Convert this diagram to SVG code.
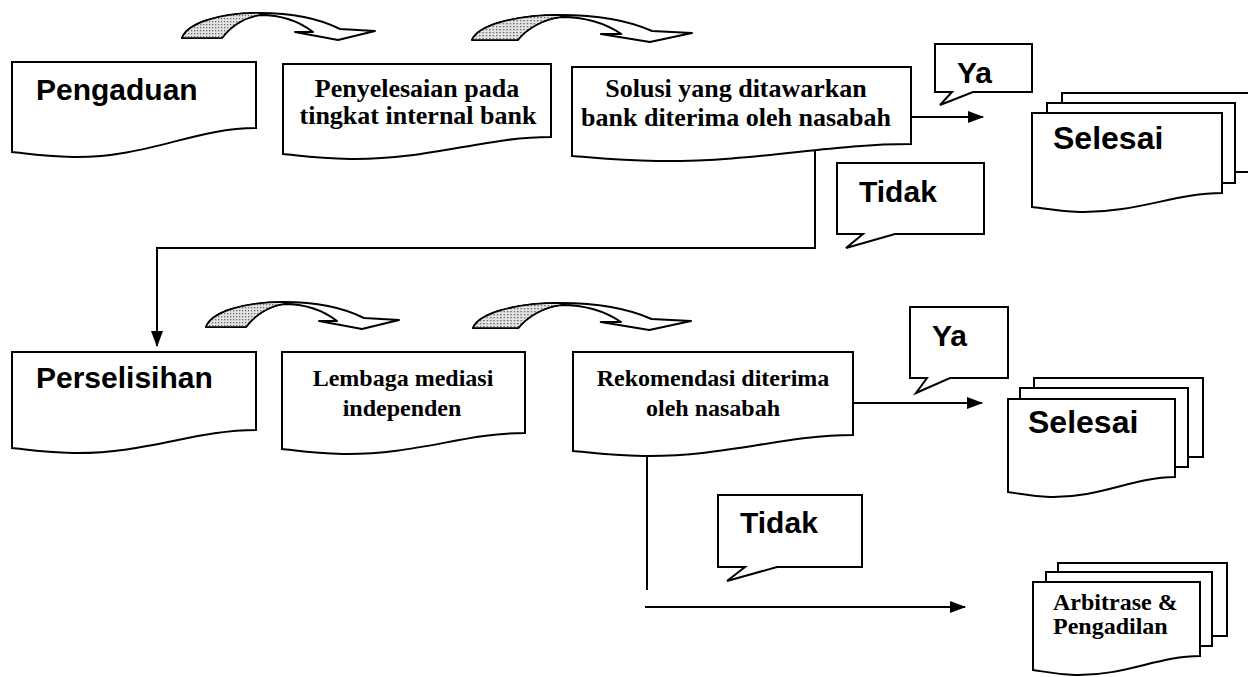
<svg xmlns="http://www.w3.org/2000/svg" xmlns:xlink="http://www.w3.org/1999/xlink" width="1248" height="677" viewBox="0 0 1248 677">
<defs>
<style>
.shape{fill:#fff;stroke:#000;stroke-width:2;stroke-linejoin:miter}
.conn{fill:none;stroke:#000;stroke-width:2}
.sans{font-family:"Liberation Sans",Arial,sans-serif;font-weight:bold;font-size:30px;fill:#000}
.big{font-size:32px}
.serif{font-family:"Liberation Serif","Times New Roman",serif;font-weight:bold;font-size:24px;fill:#000}
.lg{font-size:26px}
.mid{text-anchor:middle}
.band{fill:#fff;stroke:#000;stroke-width:2;stroke-linejoin:round}
.shade{fill:url(#dots);stroke:#000;stroke-width:1.5;stroke-linejoin:round}
</style>
<pattern id="dots" width="3" height="3" patternUnits="userSpaceOnUse">
<rect width="3" height="3" fill="#e4e4e4"/>
<rect x="0" y="0" width="1.3" height="1.3" fill="#6a6a6a"/>
</pattern>
<marker id="ah" viewBox="0 0 16 12" refX="15" refY="6" markerWidth="16" markerHeight="12" markerUnits="userSpaceOnUse" orient="auto">
<path d="M0,0 L16,6 L0,12 Z" fill="#000"/>
</marker>
<g id="curved">
<path class="band" vector-effect="non-scaling-stroke" d="M0,26 C5,12 35,1 78,1 C112,1 140,8 158,17 L193,19 L156,28 L113,20 L131,20 C118,10 100,3 78,3 C62,5 48,15 40,26 Z"/>
<path class="shade" vector-effect="non-scaling-stroke" d="M0,26 C5,12 35,1 78,1 L78,3 C62,5 48,15 40,26 Z"/>
</g>
</defs>
<rect width="1248" height="677" fill="#fff"/>

<g id="curved-arrows">
<use xlink:href="#curved" href="#curved" transform="translate(182,12)"/>
<use xlink:href="#curved" href="#curved" transform="translate(472,14) scale(1.14,1)"/>
<use xlink:href="#curved" href="#curved" transform="translate(206,301)"/>
<use xlink:href="#curved" href="#curved" transform="translate(473,302) scale(1.13,1)"/>
</g>

<g id="connectors">
<path class="conn" d="M911,117 H983" marker-end="url(#ah)"/>
<path class="conn" d="M815,144 V248 H157 V346" marker-end="url(#ah)"/>
<path class="conn" d="M853,403 H982" marker-end="url(#ah)"/>
<path class="conn" d="M647,456 V590"/>
<path class="conn" d="M645,607 H965" marker-end="url(#ah)"/>
</g>

<g id="pengaduan">
<path class="shape" d="M12,62 H256 V128 C195,128 146,158 73,157 C41,156 24,153 12,152 Z"/>
<text class="sans" x="36" y="100">Pengaduan</text>
</g>

<g id="penyelesaian">
<path class="shape" d="M283,64 H551 V137 C484,137 430,160 350,159 C315,158 296,155 283,154 Z"/>
<text class="serif lg mid" x="417" y="97">Penyelesaian pada</text>
<text class="serif lg mid" x="418" y="124">tingkat internal bank</text>
</g>

<g id="solusi">
<path class="shape" d="M572,67 H911 V144 C826,144 758,162 657,161 C613,160 589,157 572,156 Z"/>
<text class="serif lg mid" x="736" y="97">Solusi yang ditawarkan</text>
<text class="serif lg mid" x="736" y="126">bank diterima oleh nasabah</text>
</g>

<g id="ya-1">
<path class="shape" d="M935,44 H1032 V92 H973 L940,105 L952,92 H935 Z"/>
<text class="sans" x="957" y="83">Ya</text>
</g>

<g id="selesai-1">
<path class="shape" d="M1062,93 H1262 V172 H1062 Z"/>
<path class="shape" d="M1047,103 H1235 V183 H1047 Z"/>
<path class="shape" d="M1032,113 H1222 V193 C1175,193 1137,213 1080,212 C1055,211 1042,208 1032,207 Z"/>
<text class="sans big" x="1053" y="149">Selesai</text>
</g>

<g id="tidak-1">
<path class="shape" d="M837,163 H984 V234 H895 L846,248 L863,234 H837 Z"/>
<text class="sans" x="859" y="202">Tidak</text>
</g>

<g id="perselisihan">
<path class="shape" d="M12,352 H256 V430 C195,430 146,454 73,453 C41,452 24,449 12,448 Z"/>
<text class="sans" x="36" y="388">Perselisihan</text>
</g>

<g id="lembaga">
<path class="shape" d="M282,352 H525 V433 C464,433 416,455 343,454 C311,453 294,450 282,449 Z"/>
<text class="serif mid" x="403" y="386">Lembaga mediasi</text>
<text class="serif mid" x="402" y="416">independen</text>
</g>

<g id="rekomendasi">
<path class="shape" d="M573,352 H853 V435 C783,435 727,457 643,456 C607,455 587,452 573,451 Z"/>
<text class="serif mid" x="713" y="386">Rekomendasi diterima</text>
<text class="serif mid" x="713" y="416">oleh nasabah</text>
</g>

<g id="ya-2">
<path class="shape" d="M910,307 H1008 V378 H950 L916,393 L927,378 H910 Z"/>
<text class="sans" x="932" y="346">Ya</text>
</g>

<g id="selesai-2">
<path class="shape" d="M1034,378 H1203 V457 H1034 Z"/>
<path class="shape" d="M1020,388 H1188 V467 H1020 Z"/>
<path class="shape" d="M1008,399 H1175 V477 C1133,477 1100,498 1050,497 C1028,496 1016,493 1008,492 Z"/>
<text class="sans big" x="1028" y="433">Selesai</text>
</g>

<g id="tidak-2">
<path class="shape" d="M718,495 H862 V567 H777 L727,581 L745,567 H718 Z"/>
<text class="sans" x="740" y="533">Tidak</text>
</g>

<g id="arbitrase">
<path class="shape" d="M1058,563 H1227 V636 H1058 Z"/>
<path class="shape" d="M1046,572 H1212 V646 H1046 Z"/>
<path class="shape" d="M1033,582 H1200 V656 C1158,656 1125,676 1075,675 C1053,674 1041,671 1033,670 Z"/>
<text class="serif" x="1053" y="610">Arbitrase &amp;</text>
<text class="serif" x="1053" y="634">Pengadilan</text>
</g>
</svg>
